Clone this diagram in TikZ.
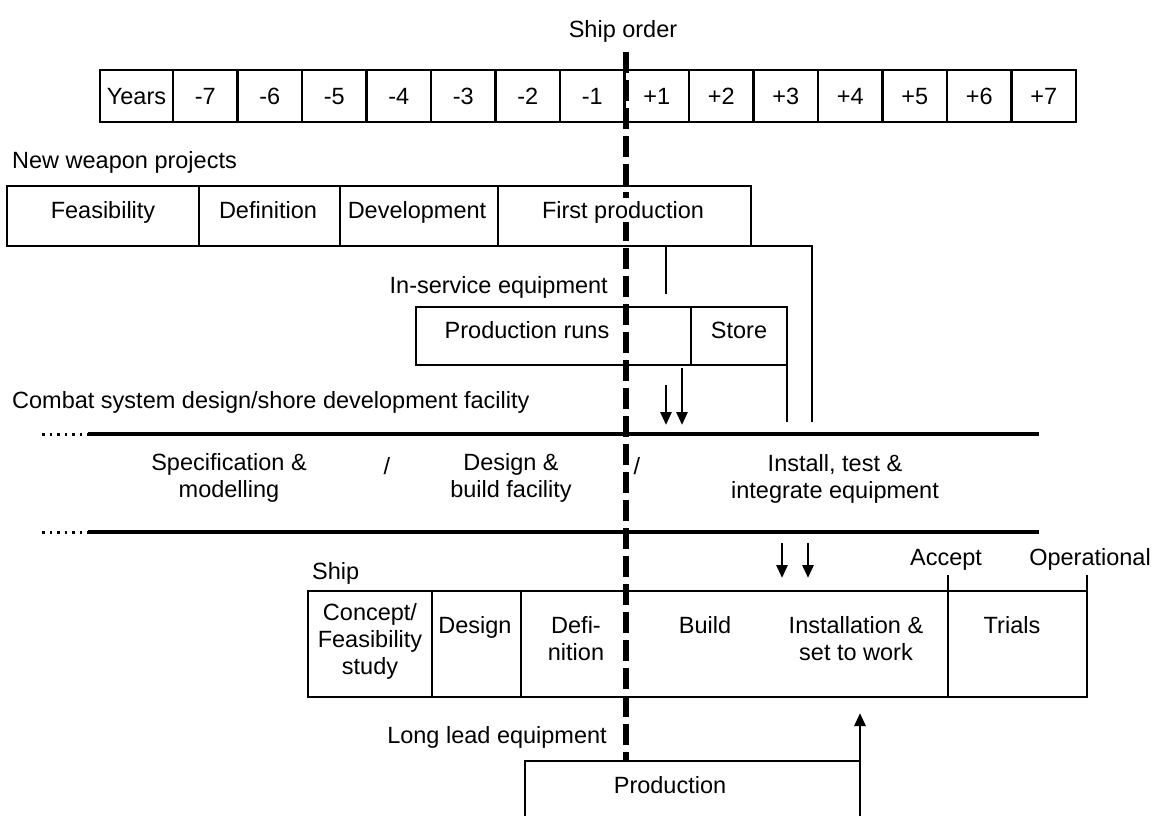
\documentclass[tikz,border=0pt]{standalone}
\usepackage{fontspec}
\setmainfont{Liberation Sans}
\usetikzlibrary{arrows.meta}
\begin{document}
\begin{tikzpicture}[x=1pt,y=-1pt,
  txt/.style={inner sep=0pt, font=\fontsize{23.5}{27}\selectfont, align=center},
  one/.style={txt, text height=19pt, text depth=2.2pt},
  cell/.style={draw, line width=2.8pt, anchor=north west, inner sep=0pt, outer sep=0pt},
  ln/.style={line width=2.8pt},
  arr/.style={line width=2.8pt, -{Triangle[width=11pt,length=13pt]}},
  shiporder/.style={line width=6pt, dash pattern=on 21pt off 7pt},
  hline/.style={line width=4pt},
  lead/.style={line width=3pt, dash pattern=on 2.5pt off 5pt},
]
\useasboundingbox (0,0) rectangle (1160,816);

% ---- years row
\node[one] (shiporderlbl) at (623,29) {Ship order};
\node[cell, one, minimum width=73pt, minimum height=52pt] (yrs) at (100,70) {Years};
\foreach \lab [count=\i from 0] in {-7,-6,-5,-4,-3,-2,-1,+1,+2,+3,+4,+5,+6,+7}
  \node[cell, one, minimum width=64.5pt, minimum height=52pt] (yr\i) at ({173+64.5*\i},70) {\lab};

% ---- new weapon projects
\node[one, anchor=west] (nwp) at (12,160) {New weapon projects};
\node[cell, minimum width=192pt, minimum height=60pt] (wfeas) at (7,186) {};
\node[cell, minimum width=141pt, minimum height=60pt] (wdef) at (199,186) {};
\node[cell, minimum width=158pt, minimum height=60pt] (wdev) at (340,186) {};
\node[cell, minimum width=253pt, minimum height=60pt] (wfirst) at (498,186) {};
\node[one] (tfeas) at (103,210) {Feasibility};
\node[one] (tdef) at (268,210) {Definition};
\node[one] (tdev) at (417,210) {Development};

% ---- in-service equipment
\node[one, anchor=east] (ise) at (608,285) {In-service equipment};
\node[cell, minimum width=275pt, minimum height=58pt] (prun) at (416,307) {};
\node[cell, minimum width=96pt, minimum height=58pt] (store) at (691,307) {};
\node[one] (tprun) at (527,330) {Production runs};
\node[one] (tstore) at (739,330) {Store};

% ---- combat system
\node[one, anchor=west] (csd) at (12,400) {Combat system design/shore development facility};
\coordinate (c1a) at (42,434); \coordinate (c1b) at (88,434); \coordinate (c1c) at (1039,434);
\coordinate (c2a) at (42,532); \coordinate (c2b) at (88,532); \coordinate (c2c) at (1039,532);
\draw[lead] (c1a) -- (c1b); \draw[hline] (c1b) -- (c1c);
\draw[lead] (c2a) -- (c2b); \draw[hline] (c2b) -- (c2c);
\node[txt] (tspec) at (229,478) {Specification \&\\modelling};
\node[one] (sl1) at (387,466) {/};
\node[txt] (tdes) at (511,478) {Design \&\\build facility};
\node[one] (sl2) at (637,466) {/};
\node[txt] (tinst) at (835,479) {Install, test \&\\integrate equipment};

% ---- ship
\node[one, anchor=west] (ship) at (312,571) {Ship};
\node[cell, minimum width=124pt, minimum height=106pt] (s1) at (308,591) {};
\node[cell, minimum width=89pt, minimum height=106pt] (s2) at (432,591) {};
\node[cell, minimum width=427pt, minimum height=106pt] (s3) at (521,591) {};
\node[cell, minimum width=139pt, minimum height=106pt] (s4) at (948,591) {};
\node[txt] (tconc) at (370,641) {Concept/\\Feasibility\\study};
\node[one] (tsdes) at (475,625) {Design};
\node[txt] (tsdef) at (576,639) {Defi-\\nition};
\node[one] (tbuild) at (705,625) {Build};
\node[txt] (tinstw) at (856,639) {Installation \&\\set to work};
\node[one] (ttrials) at (1012,625) {Trials};
\node[one] (accept) at (946,557) {Accept};
\node[one] (oper) at (1090,557) {Operational};
\draw[ln] (s4.north west) -- ++(0,-16);
\draw[ln] (s4.north east) -- ++(0,-16);

% ---- long lead equipment
\node[one, anchor=east] (lle) at (607,735) {Long lead equipment};
\coordinate (pTL) at (525,761); \coordinate (pTR) at (860,761);
\coordinate (pBL) at (525,820); \coordinate (pBR) at (860,820);
\draw[ln] (pBL) -- (pTL) -- (pTR) -- (pBR);
\node[one] (tprod) at (670,785) {Production};

% ---- ship order dashed line
\coordinate (soTop) at (626,52);
\coordinate (soBot) at (pTL -| soTop);
\draw[shiporder] (soTop) -- (soBot);
\node[one, fill=white, inner sep=1pt] (tfirst) at (623,210) {First production};

% ---- connectors
\draw[ln] ([xshift=41.5pt]wfirst.south) -- ++(0,48);
\draw[ln] (wfirst.south east) -| (812,422);
\draw[ln] (store.south east) -- ++(0,57);
\coordinate (a1s) at (666,385);
\coordinate (a2s) at (682,368);
\draw[arr] (a1s) -- ([yshift=9pt]c1a -| a1s);
\draw[arr] (a2s) -- ([yshift=9pt]c1a -| a2s);
\coordinate (a3s) at (782,543); \coordinate (a4s) at (808,543);
\draw[arr] (a3s) -- ([yshift=13pt]s3.north -| a3s);
\draw[arr] (a4s) -- ([yshift=13pt]s3.north -| a4s);
\draw[arr] (pTR) -- (860,713);
\end{tikzpicture}
\end{document}
